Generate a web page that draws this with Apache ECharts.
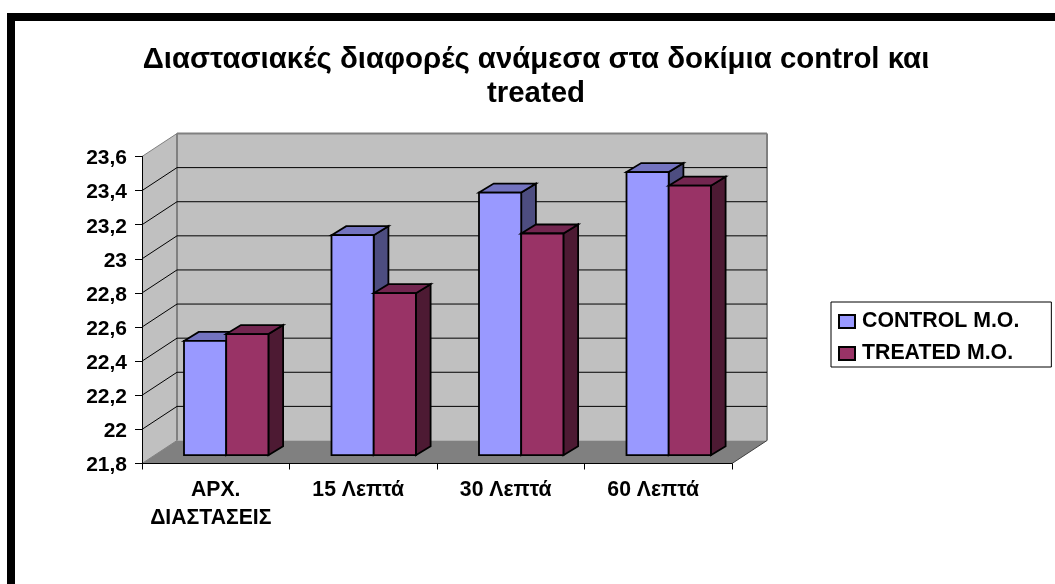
<!DOCTYPE html>
<html>
<head>
<meta charset="utf-8">
<style>html,body{margin:0;padding:0;background:#fff}#chart{width:1055px;height:584px}</style>
<script src="https://cdn.jsdelivr.net/npm/echarts@6/dist/echarts.min.js"></script>
</head>
<body>
<div id="chart"></div>
<script>
// Dimensional differences between control and treated specimens
const chartTitle = 'Διαστασιακές διαφορές ανάμεσα στα δοκίμια control και\ntreated';
const categories = ['ΑΡΧ.\nΔΙΑΣΤΑΣΕΙΣ', '15 Λεπτά', '30 Λεπτά', '60 Λεπτά'];
const controlValues = [22.47, 23.09, 23.34, 23.46];
const treatedValues = [22.51, 22.75, 23.10, 23.38];
const yTicks = [22, 22.2, 22.4, 22.6, 22.8, 23, 23.2, 23.4];
const yMin = 21.8, yMax = 23.6, yStep = 0.2;

// Oblique projection used for the box and the bars
const DEPTH_X = 35, DEPTH_Y = -23;
const BAR_DEPTH_X = 14.7, BAR_DEPTH_Y = -9;
const BAR_LIFT = -8.3;
const BAR_START = 42 / 147.5, BAR_WIDTH = 42.2 / 147.5;

const FONT = '"Liberation Sans", Arial, sans-serif';
const poly = (points, fill, stroke, lineWidth) => ({
  type: 'polygon', shape: { points },
  style: { fill, stroke: stroke || null, lineWidth: lineWidth || 0, lineJoin: 'miter' }
});
const seg = (x1, y1, x2, y2, stroke, lineWidth) => ({
  type: 'line', shape: { x1, y1, x2, y2 }, style: { stroke, lineWidth }
});

function renderBox(params) {
  const r = params.coordSys;
  const L = r.x, R = r.x + r.width, T = r.y, B = r.y + r.height;
  const dx = DEPTH_X, dy = DEPTH_Y;
  return {
    type: 'group',
    children: [
      poly([[L, T], [L + dx, T + dy], [L + dx, B + dy], [L, B]], '#C0C0C0'),
      poly([[L + dx, T + dy], [R + dx, T + dy], [R + dx, B + dy], [L + dx, B + dy]], '#C0C0C0'),
      poly([[L, B], [L + dx, B + dy], [R + dx, B + dy], [R, B]], '#808080'),
      seg(L, T, L + dx, T + dy, '#808080', 1),
      seg(L + dx, T + dy, R + dx, T + dy, '#808080', 2),
      seg(L + dx, T + dy, L + dx, B + dy, '#808080', 2),
      seg(R + dx, T + dy, R + dx, B + dy, '#808080', 2),
      seg(L, B, L + dx, B + dy, '#808080', 1),
      seg(R, B, R + dx, B + dy, '#404040', 1)
    ]
  };
}

function renderGridLine(params, api) {
  const r = params.coordSys;
  const y = api.coord([0, api.value(1)])[1];
  return {
    type: 'group',
    children: [
      seg(r.x, y, r.x + DEPTH_X, y + DEPTH_Y, '#000', 1),
      seg(r.x + DEPTH_X, y + DEPTH_Y, r.x + r.width + DEPTH_X, y + DEPTH_Y, '#000', 1)
    ]
  };
}

function barRenderer(slot, front, top, side) {
  return function (params, api) {
    const top0 = api.coord([api.value(0), api.value(1)]);
    const base = api.coord([api.value(0), yMin]);
    const band = api.size([1, 0])[0];
    const x0 = top0[0] - band / 2 + band * (BAR_START + slot * BAR_WIDTH);
    const x1 = x0 + band * BAR_WIDTH;
    const yT = top0[1] + BAR_LIFT, yB = base[1] + BAR_LIFT;
    const dx = BAR_DEPTH_X, dy = BAR_DEPTH_Y;
    return {
      type: 'group',
      children: [
        poly([[x1, yT], [x1 + dx, yT + dy], [x1 + dx, yB + dy], [x1, yB]], side, '#000', 1.8),
        poly([[x0, yT], [x0 + dx, yT + dy], [x1 + dx, yT + dy], [x1, yT]], top, '#000', 1.8),
        poly([[x0, yT], [x1, yT], [x1, yB], [x0, yB]], front, '#000', 1.8)
      ]
    };
  };
}

// Two-line category labels have their first line nudged to the right
function categoryLabel(value) {
  const lines = value.split('\n');
  return lines.length > 1 ? '{first|' + lines[0] + '}\n{second|' + lines[1] + '}' : value;
}

// Comma decimals, whole numbers without a fraction
function valueLabel(value) {
  return '{tick|' + String(+value.toFixed(1)).replace('.', ',') + '}';
}

const labelFont = { fontFamily: FONT, fontWeight: 'bold', fontSize: 21.2, color: '#000', lineHeight: 28 };
const tickFont = { fontFamily: FONT, fontWeight: 'bold', fontSize: 21, color: '#000' };

const chart = echarts.init(document.getElementById('chart'), null, { renderer: 'canvas' });
chart.setOption({
  animation: false,
  backgroundColor: '#fff',
  title: {
    text: chartTitle, left: 531, top: 38, textAlign: 'center',
    textStyle: { fontFamily: FONT, fontWeight: 'bold', fontSize: 29.4, lineHeight: 34, color: '#000' }
  },
  graphic: [
    { type: 'rect', shape: { x: 7, y: 13, width: 1048, height: 8 }, style: { fill: '#000' } },
    { type: 'rect', shape: { x: 7, y: 13, width: 8, height: 571 }, style: { fill: '#000' } }
  ],
  legend: {
    left: 831, top: 302, orient: 'vertical', icon: 'rect',
    data: ['CONTROL M.O.', 'TREATED M.O.'],
    itemWidth: 16, itemHeight: 13, itemGap: 11,
    padding: [9, 32, 3, 7],
    borderColor: '#000', borderWidth: 1,
    textStyle: { fontFamily: FONT, fontWeight: 'bold', fontSize: 21.3, color: '#000', padding: [3, 0, 0, 2] }
  },
  grid: { left: 142, top: 156.5, width: 590, height: 307, containLabel: false },
  xAxis: {
    type: 'category', data: categories, z: 5,
    axisLine: { show: true, lineStyle: { color: '#000', width: 1 } },
    axisTick: { show: true, length: 6, alignWithLabel: false, lineStyle: { color: '#000' } },
    axisLabel: Object.assign({
      interval: 0, margin: 13, padding: [0, 10, 0, 0],
      formatter: categoryLabel,
      rich: {
        first: Object.assign({ padding: [0, 0, 0, 10] }, labelFont),
        second: labelFont
      }
    }, labelFont),
    splitLine: { show: false }
  },
  yAxis: {
    type: 'value', min: yMin, max: yMax, interval: yStep, z: 5,
    axisLine: { show: true, lineStyle: { color: '#000', width: 1 } },
    axisTick: { show: true, length: 7, lineStyle: { color: '#000' } },
    axisLabel: Object.assign({
      margin: 15, formatter: valueLabel,
      rich: { tick: Object.assign({ padding: [4, 0, 0, 0] }, tickFont) }
    }, tickFont),
    splitLine: { show: false }
  },
  series: [
    { type: 'custom', name: 'box', z: 1, silent: true, clip: false, data: [[0, yMin]], renderItem: renderBox },
    { type: 'custom', name: 'grid', z: 1, silent: true, clip: false, data: yTicks.map(t => [0, t]), renderItem: renderGridLine },
    {
      type: 'custom', name: 'CONTROL M.O.', z: 2, clip: false,
      itemStyle: { color: '#9999FF', borderColor: '#000', borderWidth: 1.5 },
      data: controlValues.map((v, i) => [i, v]),
      renderItem: barRenderer(0, '#9999FF', '#7373BF', '#4D4D80')
    },
    {
      type: 'custom', name: 'TREATED M.O.', z: 3, clip: false,
      itemStyle: { color: '#993366', borderColor: '#000', borderWidth: 1.5 },
      data: treatedValues.map((v, i) => [i, v]),
      renderItem: barRenderer(1, '#993366', '#732650', '#4D1A33')
    }
  ]
});
</script>
</body>
</html>
